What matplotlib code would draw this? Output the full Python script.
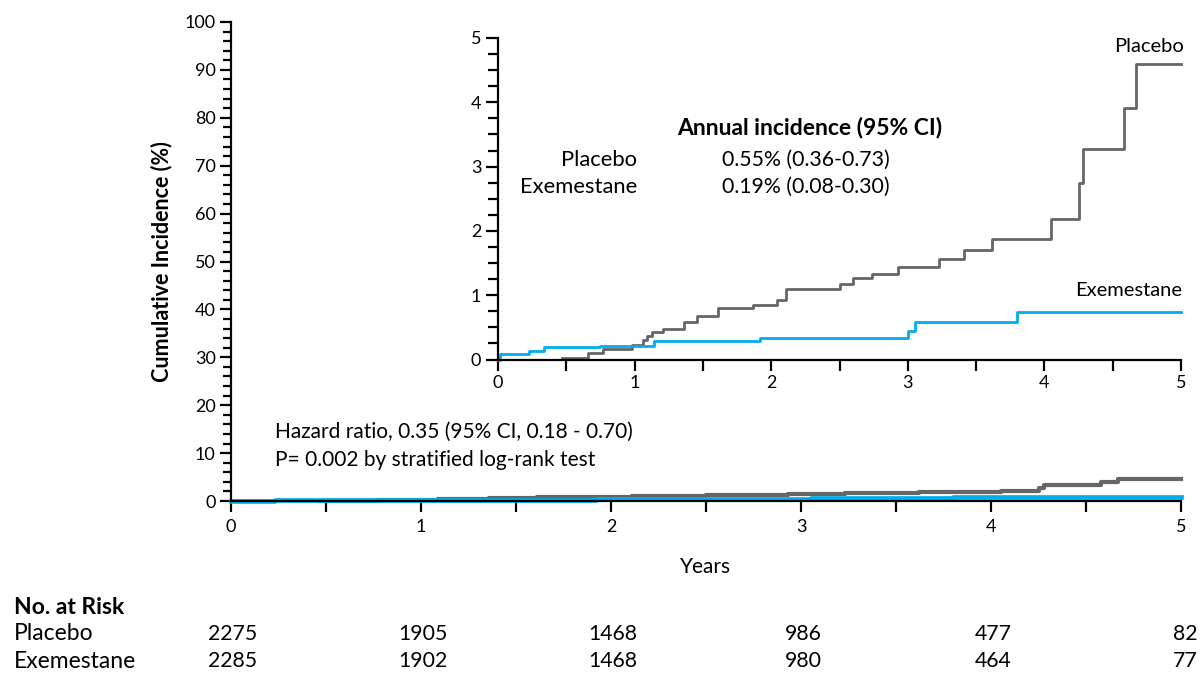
import matplotlib
matplotlib.use("Agg")
import matplotlib.pyplot as plt
from matplotlib.ticker import MultipleLocator

plt.rcParams['font.family'] = ['Lato', 'DejaVu Sans']

# =========================================================
# DADOS
# =========================================================
placebo_t = [0.47, 0.66, 0.77, 0.98, 1.06, 1.09, 1.13, 1.21, 1.36, 1.46, 1.61, 1.87,
             2.04, 2.11, 2.50, 2.60, 2.74, 2.93, 3.23, 3.41, 3.62, 4.05, 4.25, 4.28,
             4.58, 4.67, 5.0]
placebo_y = [0.02, 0.10, 0.17, 0.23, 0.30, 0.37, 0.42, 0.48, 0.58, 0.67, 0.80, 0.85,
             0.93, 1.09, 1.17, 1.26, 1.33, 1.44, 1.57, 1.71, 1.87, 2.19, 2.75, 3.27,
             3.91, 4.59, 4.59]

exe_t = [0.0, 0.015, 0.23, 0.34, 0.75, 1.14, 1.92, 3.00, 3.05, 3.80, 5.0]
exe_y = [0.0, 0.08, 0.13, 0.19, 0.21, 0.28, 0.34, 0.45, 0.58, 0.74, 0.74]

anos = [0, 1, 2, 3, 4, 5]
risco_placebo = [2275, 1905, 1468, 986, 477, 82]
risco_exe = [2285, 1902, 1468, 980, 464, 77]

cinza = "#666666"
azul = "#00aeef"

W, H = 1201, 673


def fx(px):
    return px / W


def fy(py):
    return 1 - py / H


fig = plt.figure(figsize=(12.01, 6.73), dpi=100)

# =========================================================
# GRÁFICO PRINCIPAL
# =========================================================
ax = fig.add_axes([fx(231), fy(501), fx(1181) - fx(231), fy(22) - fy(501)])
ax.step(placebo_t, placebo_y, where="post", color=cinza, lw=3.0, clip_on=False)
ax.step(exe_t, exe_y, where="post", color=azul, lw=3.4, clip_on=False)
ax.set_xlim(0, 5)
ax.set_ylim(0, 100)
for s in ["top", "right"]:
    ax.spines[s].set_visible(False)
for s in ["left", "bottom"]:
    ax.spines[s].set_linewidth(1.6)
    ax.spines[s].set_zorder(5)
ax.xaxis.set_major_locator(MultipleLocator(1))
ax.xaxis.set_minor_locator(MultipleLocator(0.5))
ax.yaxis.set_major_locator(MultipleLocator(10))
ax.yaxis.set_minor_locator(MultipleLocator(2))
ax.tick_params(axis="both", which="major", length=8, width=1.6, labelsize=13, pad=3)
ax.tick_params(axis="both", which="minor", length=6, width=1.6)
ax.tick_params(axis="x", which="both", length=8, pad=5)
ax.set_xlabel("Years", fontsize=15, labelpad=16)
ax.set_ylabel("Cumulative Incidence (%)", fontsize=15.5, fontweight="bold", labelpad=9)

fig.text(fx(275), fy(432), "Hazard ratio, 0.35 (95% CI, 0.18 - 0.70)", fontsize=15,
         va="center", ha="left")
fig.text(fx(275), fy(460), "P= 0.002 by stratified log-rank test", fontsize=15,
         va="center", ha="left")

# =========================================================
# INSET
# =========================================================
ins = fig.add_axes([fx(498), fy(359.5), fx(1181) - fx(498), fy(38) - fy(359.5)])
ins.patch.set_alpha(0)
ins.step(placebo_t, placebo_y, where="post", color=cinza, lw=2.0, clip_on=False)
ins.step(exe_t, exe_y, where="post", color=azul, lw=2.0, clip_on=False)
ins.set_xlim(0, 5)
ins.set_ylim(0, 5)
for s in ["top", "right"]:
    ins.spines[s].set_visible(False)
for s in ["left", "bottom"]:
    ins.spines[s].set_linewidth(1.6)
    ins.spines[s].set_zorder(5)
ins.xaxis.set_major_locator(MultipleLocator(1))
ins.xaxis.set_minor_locator(MultipleLocator(0.5))
ins.yaxis.set_major_locator(MultipleLocator(1))
ins.yaxis.set_minor_locator(MultipleLocator(0.25))
ins.tick_params(axis="both", which="major", length=9, width=1.6, labelsize=13, pad=3)
ins.tick_params(axis="both", which="minor", length=7, width=1.6)
ins.tick_params(axis="x", which="both", length=8)

ins.text(5.02, 4.87, "Placebo", fontsize=14.5, ha="right", va="center")
ins.text(5.01, 1.08, "Exemestane", fontsize=14.5, ha="right", va="center")

fig.text(fx(810), fy(127), "Annual incidence (95% CI)", fontsize=16.5, fontweight="bold",
         ha="center", va="center")
fig.text(fx(637), fy(160), "Placebo", fontsize=15.8, ha="right", va="center")
fig.text(fx(637), fy(187), "Exemestane", fontsize=15.8, ha="right", va="center")
fig.text(fx(722), fy(160), "0.55% (0.36-0.73)", fontsize=15.3, ha="left", va="center")
fig.text(fx(722), fy(187), "0.19% (0.08-0.30)", fontsize=15.3, ha="left", va="center")

# =========================================================
# NÚMERO EM RISCO
# =========================================================
fig.text(fx(14), fy(607), "No. at Risk", fontsize=16.5, fontweight="bold", va="center")
fig.text(fx(14), fy(634), "Placebo", fontsize=16.5, va="center")
fig.text(fx(14), fy(661), "Exemestane", fontsize=16.5, va="center")
for ano, p, e in zip(anos, risco_placebo, risco_exe):
    xpix = 233 + ano * 190
    if ano == 5:
        xpix = 1185
    fig.text(fx(xpix), fy(634), str(p), fontsize=15.3, ha="center", va="center")
    fig.text(fx(xpix), fy(661), str(e), fontsize=15.3, ha="center", va="center")

fig.savefig("out.png", dpi=100)
plt.close(fig)
